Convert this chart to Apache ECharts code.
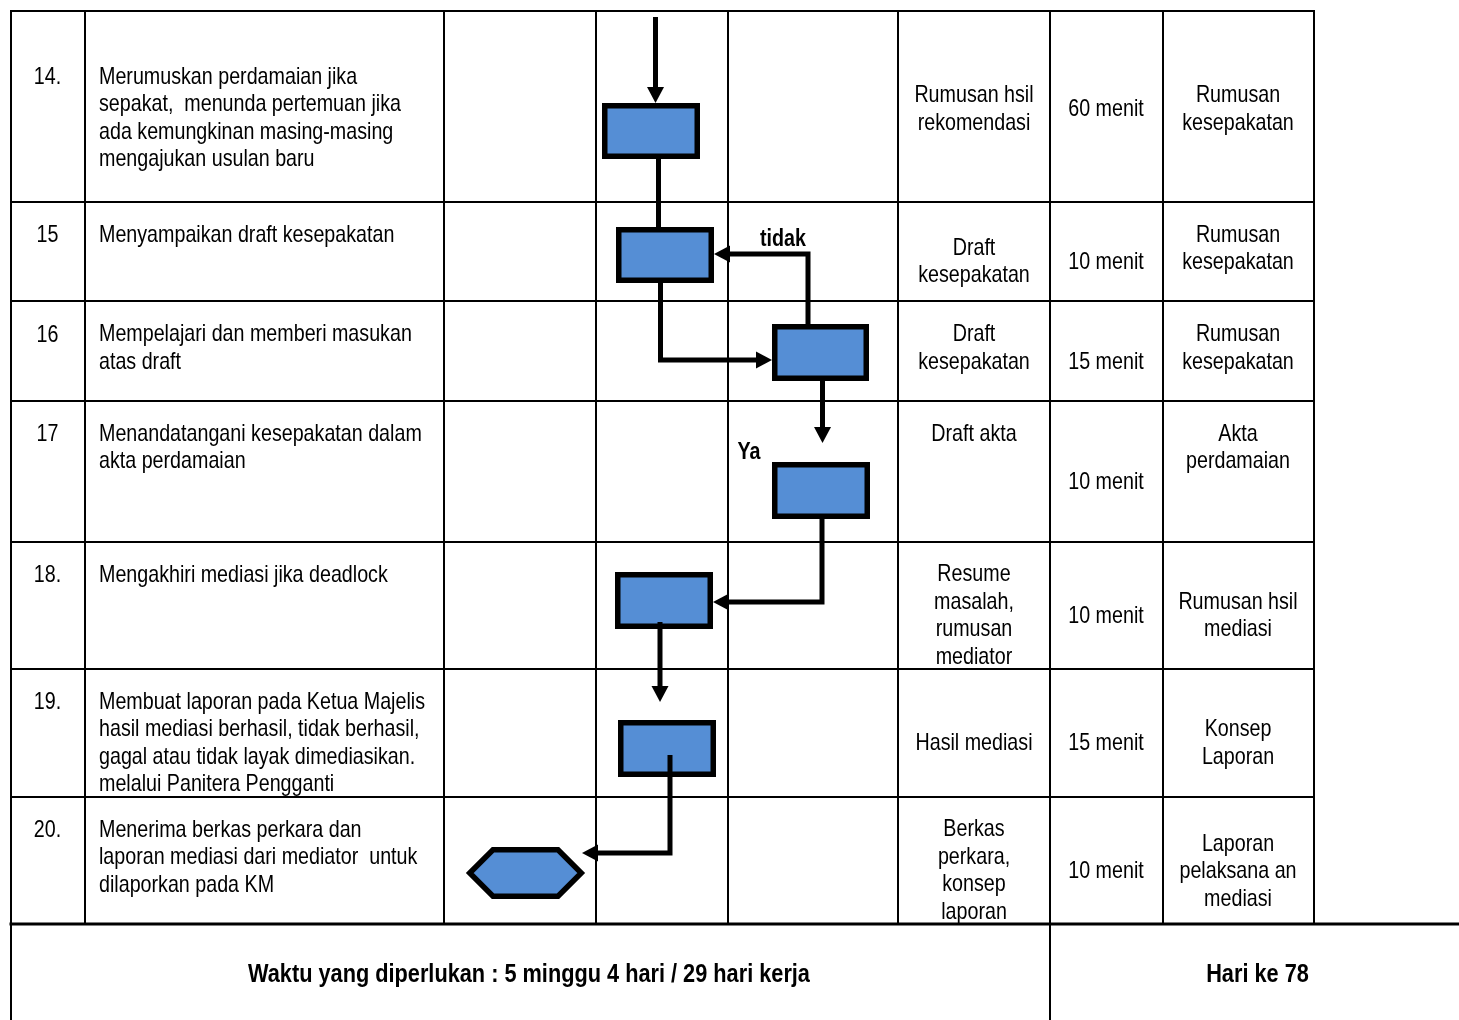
<!DOCTYPE html>
<html>
<head>
<meta charset="utf-8">
<style>
  html, body { margin: 0; padding: 0; background: #fff; }
  #chart { width: 1459px; height: 1020px; }
</style>
<script src="https://cdn.jsdelivr.net/npm/echarts@6/dist/echarts.min.js"></script>
</head>
<body>
<div id="chart"></div>
<script>
// ---------------- DATA ----------------
const stepNo = ['14.', '15', '16', '17', '18.', '19.', '20.'];
const kegiatan = [
  'Merumuskan perdamaian jika\nsepakat,  menunda pertemuan jika\nada kemungkinan masing-masing\nmengajukan usulan baru',
  'Menyampaikan draft kesepakatan',
  'Mempelajari dan memberi masukan\natas draft',
  'Menandatangani kesepakatan dalam\nakta perdamaian',
  'Mengakhiri mediasi jika deadlock',
  'Membuat laporan pada Ketua Majelis\nhasil mediasi berhasil, tidak berhasil,\ngagal atau tidak layak dimediasikan.\nmelalui Panitera Pengganti',
  'Menerima berkas perkara dan\nlaporan mediasi dari mediator  untuk\ndilaporkan pada KM'
];
const kelengkapan = [
  'Rumusan hsil\nrekomendasi', 'Draft\nkesepakatan', 'Draft\nkesepakatan', 'Draft akta',
  'Resume\nmasalah,\nrumusan\nmediator', 'Hasil mediasi', 'Berkas\nperkara,\nkonsep\nlaporan'
];
const waktu = ['60 menit', '10 menit', '15 menit', '10 menit', '10 menit', '15 menit', '10 menit'];
const outputText = [
  'Rumusan\nkesepakatan', 'Rumusan\nkesepakatan', 'Rumusan\nkesepakatan', 'Akta\nperdamaian',
  'Rumusan hsil\nmediasi', 'Konsep\nLaporan', 'Laporan\npelaksana an\nmediasi'
];
const flowShape = ['process', 'process', 'process', 'process', 'process', 'process', 'hexagon'];
const branchLabels = ['tidak', 'Ya'];
const totalTimeText = 'Waktu yang diperlukan : 5 minggu 4 hari / 29 hari kerja';
const dayText = 'Hari ke 78';

// ---------------- LAYOUT (chart units) ----------------
const COL_X = [11, 85, 444, 596, 728, 898, 1050, 1163, 1314];
const ROW_Y = [11, 202, 301, 401, 542, 669, 797, 924];
const PAGE_BOTTOM = 1030;
const TEXT_Y = {
  no:   [75, 233, 333, 432, 573, 700, 828],
  act:  [116.25, 233, 346.5, 446, 573, 741.5, 855.5],
  doc:  [107.5, 260, 346.5, 432, 614, 741, 869],
  time: [107, 260, 360, 480, 614, 741, 869],
  out:  [107.5, 247, 346.5, 445.75, 614, 741.5, 869.5]
};
const TEXT_DY = 2;
const TEXT_X = { no: 47.5, act: 99, doc: 974, time: 1106, out: 1238 };
const BOX = [
  [602, 103, 700, 159],
  [616, 227, 714, 283],
  [772, 324, 869, 381],
  [772, 462, 870, 519],
  [615, 572, 713, 629],
  [618, 720, 716, 777],
  [467, 847, 584, 899]
];
const CONNECTORS = [
  { pts: [[655.5, 17], [655.5, 103]], arrow: true },
  { pts: [[658.5, 159], [658.5, 227]], arrow: false },
  { pts: [[808, 324], [808, 254], [714, 254]], arrow: true },
  { pts: [[660.5, 283], [660.5, 360], [772, 360]], arrow: true },
  { pts: [[822.5, 381], [822.5, 443]], arrow: true },
  { pts: [[822, 519], [822, 602], [713, 602]], arrow: true },
  { pts: [[660, 622], [660, 702]], arrow: true },
  { pts: [[670, 755], [670, 853], [582, 853]], arrow: true }
];
const LABEL_POS = [[783, 237], [749, 450]];
const FOOT_TEXT_Y = 975;
const FOOT_TEXT_X = [529, 1257.5];

const FONT = 'Liberation Sans';
const NARROW = 0.82;
const BODY_SIZE = 24;
const FOOT_SIZE = 26.5;
const LINE_H = 27.5;
const BLUE = '#558ED5';

// ---------------- BUILD ----------------
const segs = [];
for (let i = 0; i < ROW_Y.length - 1; i++) {
  segs.push([COL_X[0], ROW_Y[i], COL_X[COL_X.length - 1], ROW_Y[i], 2]);
}
segs.push([COL_X[0], ROW_Y[ROW_Y.length - 1], 1459, ROW_Y[ROW_Y.length - 1], 3]);
COL_X.forEach(function (x) { segs.push([x, ROW_Y[0], x, ROW_Y[ROW_Y.length - 1], 2]); });
segs.push([COL_X[0], ROW_Y[ROW_Y.length - 1], COL_X[0], PAGE_BOTTOM, 2]);
segs.push([COL_X[6], ROW_Y[ROW_Y.length - 1], COL_X[6], PAGE_BOTTOM, 2]);

const cells = [];
for (let i = 0; i < stepNo.length; i++) {
  cells.push({ x: TEXT_X.no, y: TEXT_Y.no[i] + TEXT_DY, text: stepNo[i], align: 'center' });
  cells.push({ x: TEXT_X.act, y: TEXT_Y.act[i] + TEXT_DY, text: kegiatan[i], align: 'left' });
  cells.push({ x: TEXT_X.doc, y: TEXT_Y.doc[i] + TEXT_DY, text: kelengkapan[i], align: 'center' });
  cells.push({ x: TEXT_X.time, y: TEXT_Y.time[i] + TEXT_DY, text: waktu[i], align: 'center' });
  cells.push({ x: TEXT_X.out, y: TEXT_Y.out[i] + TEXT_DY, text: outputText[i], align: 'center' });
}
branchLabels.forEach(function (t, i) {
  cells.push({ x: LABEL_POS[i][0], y: LABEL_POS[i][1] + TEXT_DY, text: t, align: 'center', bold: true });
});
cells.push({ x: FOOT_TEXT_X[0], y: FOOT_TEXT_Y, text: totalTimeText, align: 'center', bold: true, size: FOOT_SIZE });
cells.push({ x: FOOT_TEXT_X[1], y: FOOT_TEXT_Y, text: dayText, align: 'center', bold: true, size: FOOT_SIZE });

const chart = echarts.init(document.getElementById('chart'), null, { renderer: 'canvas' });

function arrowHead(tip, prev) {
  const dx = tip[0] - prev[0], dy = tip[1] - prev[1];
  const len = Math.sqrt(dx * dx + dy * dy) || 1;
  const ux = dx / len, uy = dy / len;
  const L = 16, W = 8.5;
  const bx = tip[0] - ux * L, by = tip[1] - uy * L;
  return [tip, [bx - uy * W, by + ux * W], [bx + uy * W, by - ux * W]];
}

const option = {
  animation: false,
  backgroundColor: '#ffffff',
  grid: { left: 0, right: 0, top: 0, bottom: 0 },
  xAxis: { type: 'value', min: 0, max: 1459, show: false },
  yAxis: { type: 'value', min: 0, max: 1020, inverse: true, show: false },
  series: [
    {
      type: 'custom',
      name: 'table',
      data: segs,
      silent: true,
      renderItem: function (params, api) {
        const a = api.coord([api.value(0), api.value(1)]);
        const b = api.coord([api.value(2), api.value(3)]);
        const w = api.value(4);
        return {
          type: 'line',
          shape: { x1: a[0], y1: a[1], x2: b[0], y2: b[1] },
          style: { stroke: '#000', lineWidth: w, lineCap: 'square' }
        };
      }
    },
    {
      type: 'custom',
      name: 'boxes',
      data: BOX,
      silent: true,
      z: 3,
      renderItem: function (params, api) {
        const p0 = api.coord([api.value(0), api.value(1)]);
        const p1 = api.coord([api.value(2), api.value(3)]);
        const sw = 5.5, h = sw / 2;
        const x0 = p0[0] + h, y0 = p0[1] + h, x1 = p1[0] - h, y1 = p1[1] - h;
        const style = { fill: BLUE, stroke: '#000', lineWidth: sw, lineJoin: 'miter' };
        if (flowShape[params.dataIndex] === 'hexagon') {
          const ym = (y0 + y1) / 2;
          const ins = (y1 - y0) / 2;
          return {
            type: 'polygon',
            shape: { points: [[x0, ym], [x0 + ins, y0], [x1 - ins, y0], [x1, ym], [x1 - ins, y1], [x0 + ins, y1]] },
            style: style
          };
        }
        return { type: 'rect', shape: { x: x0, y: y0, width: x1 - x0, height: y1 - y0 }, style: style };
      }
    },
    {
      type: 'custom',
      name: 'connectors',
      data: CONNECTORS.map(function (c, i) { return [c.pts[0][0], c.pts[0][1], i]; }),
      silent: true,
      z: 4,
      renderItem: function (params, api) {
        const c = CONNECTORS[params.dataIndex];
        const pts = c.pts.map(function (p) { return api.coord(p); });
        const children = [];
        const linePts = pts.slice();
        if (c.arrow) {
          const tip = pts[pts.length - 1], prev = pts[pts.length - 2];
          const dx = tip[0] - prev[0], dy = tip[1] - prev[1];
          const len = Math.sqrt(dx * dx + dy * dy) || 1;
          linePts[linePts.length - 1] = [tip[0] - dx / len * 10, tip[1] - dy / len * 10];
          children.push({ type: 'polyline', shape: { points: linePts }, style: { stroke: '#000', lineWidth: 5, fill: null, lineJoin: 'miter', lineCap: 'butt' } });
          children.push({ type: 'polygon', shape: { points: arrowHead(tip, prev) }, style: { fill: '#000' } });
        } else {
          children.push({ type: 'polyline', shape: { points: linePts }, style: { stroke: '#000', lineWidth: 5, fill: null, lineCap: 'butt' } });
        }
        return { type: 'group', children: children };
      }
    },
    {
      type: 'custom',
      name: 'texts',
      data: cells.map(function (c) { return [c.x, c.y]; }),
      silent: true,
      z: 5,
      renderItem: function (params, api) {
        const c = cells[params.dataIndex];
        const p = api.coord([api.value(0), api.value(1)]);
        return {
          type: 'text',
          x: p[0], y: p[1],
          scaleX: NARROW, scaleY: 1,
          style: {
            text: c.text, x: 0, y: 0,
            align: c.align, verticalAlign: 'middle',
            fontFamily: FONT,
            fontSize: c.size || BODY_SIZE,
            fontWeight: c.bold ? 'bold' : 'normal',
            lineHeight: LINE_H,
            fill: '#000'
          }
        };
      }
    }
  ]
};
chart.setOption(option);
</script>
</body>
</html>
